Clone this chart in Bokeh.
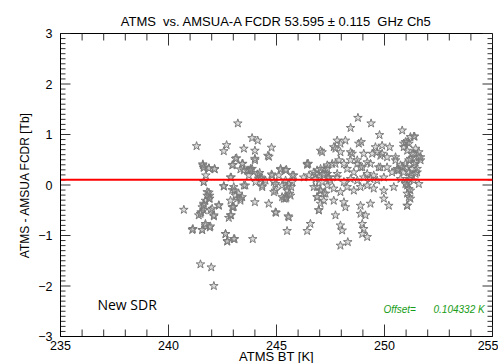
from bokeh.plotting import figure
from bokeh.models import Range1d, SingleIntervalTicker, Label
from bokeh.embed import file_html
from bokeh.resources import INLINE

# ---------------- data ----------------
bt = [
    243.21, 241.30, 242.69, 242.56, 243.87, 244.13, 244.77, 243.49, 244.00, 244.60,
    244.65, 243.15, 244.00, 241.59, 241.87, 242.14, 241.63, 242.99, 243.44, 243.33,
    243.72, 243.87, 245.19, 245.46, 246.47, 247.04, 247.11, 244.18, 244.26, 244.11,
    244.77, 245.11, 245.80, 242.90, 241.73, 241.63, 245.42, 245.57, 245.68, 245.49,
    245.61, 245.46, 245.34, 245.73, 244.34, 244.88, 244.95, 242.56, 242.95, 243.06,
    243.25, 243.41, 243.18, 243.33, 242.87, 241.79, 241.91, 241.87, 241.71, 241.63,
    241.56, 241.63, 241.51, 240.71, 241.40, 242.10, 242.33, 241.94, 242.79, 242.95,
    243.02, 242.90, 241.13, 241.56, 241.71, 241.91, 242.64, 242.72, 243.06, 243.90,
    244.00, 244.64, 244.95, 245.54, 245.49, 246.42, 246.57, 241.48, 241.98, 242.10,
    246.88, 247.19, 247.35, 246.96, 247.11, 246.88, 247.04, 247.27, 246.88, 247.19,
    246.96, 247.35, 247.43,
    244.00, 246.42, 246.50, 246.81, 244.98, 245.57, 243.64, 243.80, 244.22, 244.30,
    244.34, 244.03, 244.49, 243.56, 244.80, 244.95, 244.88, 245.19, 245.42, 245.73,
    245.26, 245.49, 245.65, 245.42, 245.26,
    248.77, 249.38, 248.43, 249.77, 250.82, 251.20, 251.39, 251.05, 250.89, 247.81,
    248.19, 248.81, 248.92, 247.65, 247.96, 248.43, 249.58, 249.89, 250.24, 249.43,
    249.81, 250.51, 250.89, 251.05, 251.36, 251.59, 251.67, 251.20, 251.44,
    246.42, 246.73, 247.04, 247.35, 247.58, 247.89, 248.12, 248.43, 248.74, 248.97,
    249.20, 249.81, 250.59, 250.74, 251.05, 251.28, 251.51, 251.20, 250.89,
    246.26, 246.81, 247.19, 247.50, 247.81, 248.12, 248.43, 248.74, 249.04, 249.35,
    249.66, 249.97, 250.74, 251.05, 251.36,
    246.73, 247.04, 246.88, 247.19, 247.65, 247.96, 248.27, 248.58, 248.89, 249.20,
    249.50, 249.97, 250.43, 251.05, 251.20, 251.13, 251.05, 247.04, 247.65, 248.12,
    248.19, 248.89, 249.35, 249.97, 250.20, 246.96,
    247.73, 248.89, 249.12, 247.96, 248.04, 248.97, 249.04, 248.97, 249.20, 247.96,
    248.30,
    251.36, 250.97, 251.13, 251.44, 251.59, 251.67, 251.28, 251.13, 250.97, 251.36,
    251.51, 250.82, 250.66, 251.13, 251.44, 251.13, 250.97, 251.59, 251.13, 251.05,
    251.20, 251.05,
    247.35, 247.19, 247.43, 247.73, 247.81, 248.27, 248.58, 248.89, 249.20, 249.50,
    249.73, 249.35, 248.74, 250.12, 250.35, 250.59, 250.51, 249.89, 250.12, 249.66,
    249.04, 248.50, 247.96, 247.73,
    243.10, 242.95, 243.41, 241.59, 241.87, 242.13, 241.63, 243.80, 243.49, 243.72,
    242.87, 242.56, 243.02, 243.49, 241.63, 241.87,
    241.79, 241.91, 241.63, 242.02, 242.33, 241.48, 242.10, 241.71, 241.94, 241.10,
    241.56, 242.64, 242.72, 243.02, 242.87, 242.99, 243.10, 243.33,
]
diff = [
    1.22, 0.77, 0.79, 0.67, 0.93, 0.88, 0.74, 0.72, 0.68, 0.58,
    0.56, 0.53, 0.49, 0.41, 0.33, 0.31, 0.34, 0.40, 0.42, 0.31,
    0.29, 0.32, 0.30, 0.30, 0.42, 0.68, 0.65, 0.19, 0.15, 0.21,
    0.21, 0.19, 0.19, 0.15, 0.19, 0.06, 0.09, 0.02, -0.04, -0.11,
    -0.17, -0.25, -0.27, 0.06, -0.01, 0.06, -0.11, -0.03, -0.10, -0.11,
    -0.17, -0.24, -0.27, -0.31, -0.31, -0.14, -0.21, -0.27, -0.31, -0.37,
    -0.44, -0.50, -0.54, -0.49, -0.60, -0.62, -0.41, -0.50, -0.65, -0.44,
    -0.43, -0.60, -0.87, -0.89, -0.80, -0.84, -0.97, -1.12, -1.07, -1.07,
    -0.34, -0.37, -0.54, -0.62, -0.91, -0.91, -0.77, -1.57, -1.63, -2.00,
    0.29, 0.32, 0.22, 0.15, 0.06, -0.04, -0.11, -0.17, -0.24, -0.31,
    -0.50, -0.01, 0.15,
    0.52, 0.40, 0.19, 0.22, -0.55, -0.64, 0.29, 0.32, 0.24, 0.12,
    -0.04, 0.06, 0.09, -0.01, 0.19, 0.02, -0.14, 0.32, 0.29, 0.19,
    -0.01, -0.04, -0.21, -0.27, -0.24,
    1.33, 1.22, 1.13, 0.99, 1.08, 0.95, 0.96, 0.85, 0.82, 0.88,
    0.88, 0.82, 0.85, 0.75, 0.65, 0.65, 0.75, 0.78, 0.75, 0.62,
    0.58, 0.55, 0.75, 0.68, 0.62, 0.55, 0.49, 0.52, 0.45,
    0.42, 0.25, 0.32, 0.39, 0.42, 0.49, 0.42, 0.49, 0.42, 0.35,
    0.45, 0.35, 0.32, 0.39, 0.35, 0.32, 0.25, 0.19, 0.25,
    0.15, 0.12, 0.19, 0.09, 0.15, 0.06, 0.12, 0.09, 0.15, 0.12,
    0.09, 0.15, 0.12, 0.06, 0.09,
    -0.04, -0.11, -0.24, -0.17, -0.07, -0.14, -0.04, -0.11, -0.04, -0.01,
    -0.07, -0.11, -0.04, -0.01, -0.11, -0.24, -0.41, -0.37, -0.31, -0.34,
    -0.44, -0.41, -0.37, -0.27, -0.41, -0.50,
    -0.60, -0.57, -0.60, -0.80, -0.90, -0.77, -0.87, -0.97, -1.03, -1.20,
    -1.13,
    0.96, 0.85, 0.82, 0.72, 0.65, 0.55, 0.62, 0.49, 0.42, 0.42,
    0.32, 0.35, 0.29, 0.25, 0.22, 0.12, 0.02, 0.02, -0.08, -0.17,
    -0.27, -0.41,
    0.32, 0.22, 0.15, 0.42, 0.22, 0.32, 0.25, 0.35, 0.22, 0.19,
    0.35, 0.42, 0.49, 0.35, 0.25, 0.29, 0.49, 0.62, 0.55, 0.65,
    0.62, 0.62, 0.82, 0.72,
    0.52, 0.39, 0.42, 0.39, 0.33, 0.32, 0.35, 0.29, 0.29, 0.19,
    0.15, -0.02, -0.04, -0.01, 0.06, -0.15,
    -0.21, -0.27, -0.40, -0.47, -0.40, -0.57, -0.60, -0.77, -0.82, -0.89,
    -0.89, -0.97, -1.11, -1.07, -0.60, -0.44, -0.21, -0.27,
]
offset = 0.104332
x_limits = [235, 255]
y_limits = [-3, 3]
x_major_step = 5
x_minor_per_major = 5
y_major_step = 1
y_minor_per_major = 10

NB = "\u00a0"
title_text = "ATMS" + NB + " vs. AMSUA-A FCDR 53.595 \u00b1 0.115" + NB + " GHz Ch5"
x_label = "ATMS BT [K]"
y_label = "ATMS - AMSUA FCDR [Tb]"
note_text = "New SDR"
offset_label = "Offset="
offset_value_text = "%.6f K" % offset

FONT = "Liberation Sans"
FRAME_W, FRAME_H = 432, 303

# ---------------- figure ----------------
p = figure(width=498, height=363, output_backend="svg", toolbar_location=None,
           x_range=Range1d(*x_limits), y_range=Range1d(*y_limits),
           frame_width=FRAME_W, frame_height=FRAME_H,
           min_border_left=60, min_border_right=6, min_border_top=33,
           min_border_bottom=27, background_fill_color="white",
           border_fill_color="white")

p.title.text = title_text
p.title.align = "center"
p.title.offset = -10
p.title.text_font = FONT
p.title.text_font_size = "13px"
p.title.text_font_style = "normal"
p.title.text_color = "black"

p.xgrid.visible = False
p.ygrid.visible = False
p.outline_line_color = "black"
p.outline_line_width = 1

for ax in (p.xaxis[0], p.yaxis[0]):
    ax.major_tick_in = 0
    ax.major_tick_out = 0
    ax.minor_tick_in = 0
    ax.minor_tick_out = 0
    ax.axis_line_color = "black"
    ax.major_label_text_font = FONT
    ax.major_label_text_font_size = "12.5px"
    ax.major_label_text_color = "black"
    ax.axis_label_text_font = FONT
    ax.axis_label_text_font_style = "normal"
    ax.axis_label_text_color = "black"

xa = p.xaxis[0]
xa.ticker = SingleIntervalTicker(interval=x_major_step, num_minor_ticks=x_minor_per_major)
xa.axis_label = x_label
xa.axis_label_text_font_size = "13px"
xa.major_label_standoff = 4
xa.axis_label_standoff = -4

ya = p.yaxis[0]
ya.ticker = SingleIntervalTicker(interval=y_major_step, num_minor_ticks=y_minor_per_major)
ya.axis_label = y_label
ya.axis_label_text_font_size = "12px"
ya.major_label_standoff = 8
ya.axis_label_standoff = 3

# ---------------- inward ticks on all four sides ----------------
x_span = x_limits[1] - x_limits[0]
y_span = y_limits[1] - y_limits[0]
px_x = x_span / FRAME_W   # data units per pixel, horizontal
px_y = y_span / FRAME_H   # data units per pixel, vertical

n_x = int(round(x_span / x_major_step * x_minor_per_major))
x_tick_vals = [x_limits[0] + i * x_major_step / x_minor_per_major for i in range(n_x + 1)]
x_is_major = [i % x_minor_per_major == 0 for i in range(n_x + 1)]
n_y = int(round(y_span / y_major_step * y_minor_per_major))
y_tick_vals = [y_limits[0] + i * y_major_step / y_minor_per_major for i in range(n_y + 1)]
y_is_major = [i % y_minor_per_major == 0 for i in range(n_y + 1)]

tx0, ty0, tx1, ty1 = [], [], [], []
for v, major in zip(x_tick_vals, x_is_major):
    L = (12 if major else 7) * px_y
    tx0 += [v, v]
    tx1 += [v, v]
    ty0 += [y_limits[0], y_limits[1]]
    ty1 += [y_limits[0] + L, y_limits[1] - L]
for v, major in zip(y_tick_vals, y_is_major):
    L = (10 if major else 5) * px_x
    ty0 += [v, v]
    ty1 += [v, v]
    tx0 += [x_limits[0], x_limits[1]]
    tx1 += [x_limits[0] + L, x_limits[1] - L]
p.segment(tx0, ty0, tx1, ty1, line_color="#333333", line_width=1)

# ---------------- data glyphs ----------------
p.scatter(bt, diff, marker="star", size=9, line_color="#7a7a7a",
          line_width=1, fill_color="#9a9a9a", fill_alpha=0.35)

p.line(x_limits, [offset, offset], line_color="#ff0000", line_width=2.2)

p.add_layout(Label(x=236.71, y=-2.37, text=note_text, text_font="Open Sans",
                   text_font_size="14px", text_color="black",
                   text_baseline="middle", text_align="left"))
p.add_layout(Label(x=249.95, y=-2.46, text=offset_label, text_font=FONT,
                   text_font_size="10px", text_font_style="italic",
                   text_color="#169c16", text_baseline="middle",
                   text_align="left"))
p.add_layout(Label(x=252.27, y=-2.46, text=offset_value_text, text_font=FONT,
                   text_font_size="10px", text_font_style="italic",
                   text_color="#169c16", text_baseline="middle",
                   text_align="left"))

open("out.html", "w").write(file_html(p, INLINE))
